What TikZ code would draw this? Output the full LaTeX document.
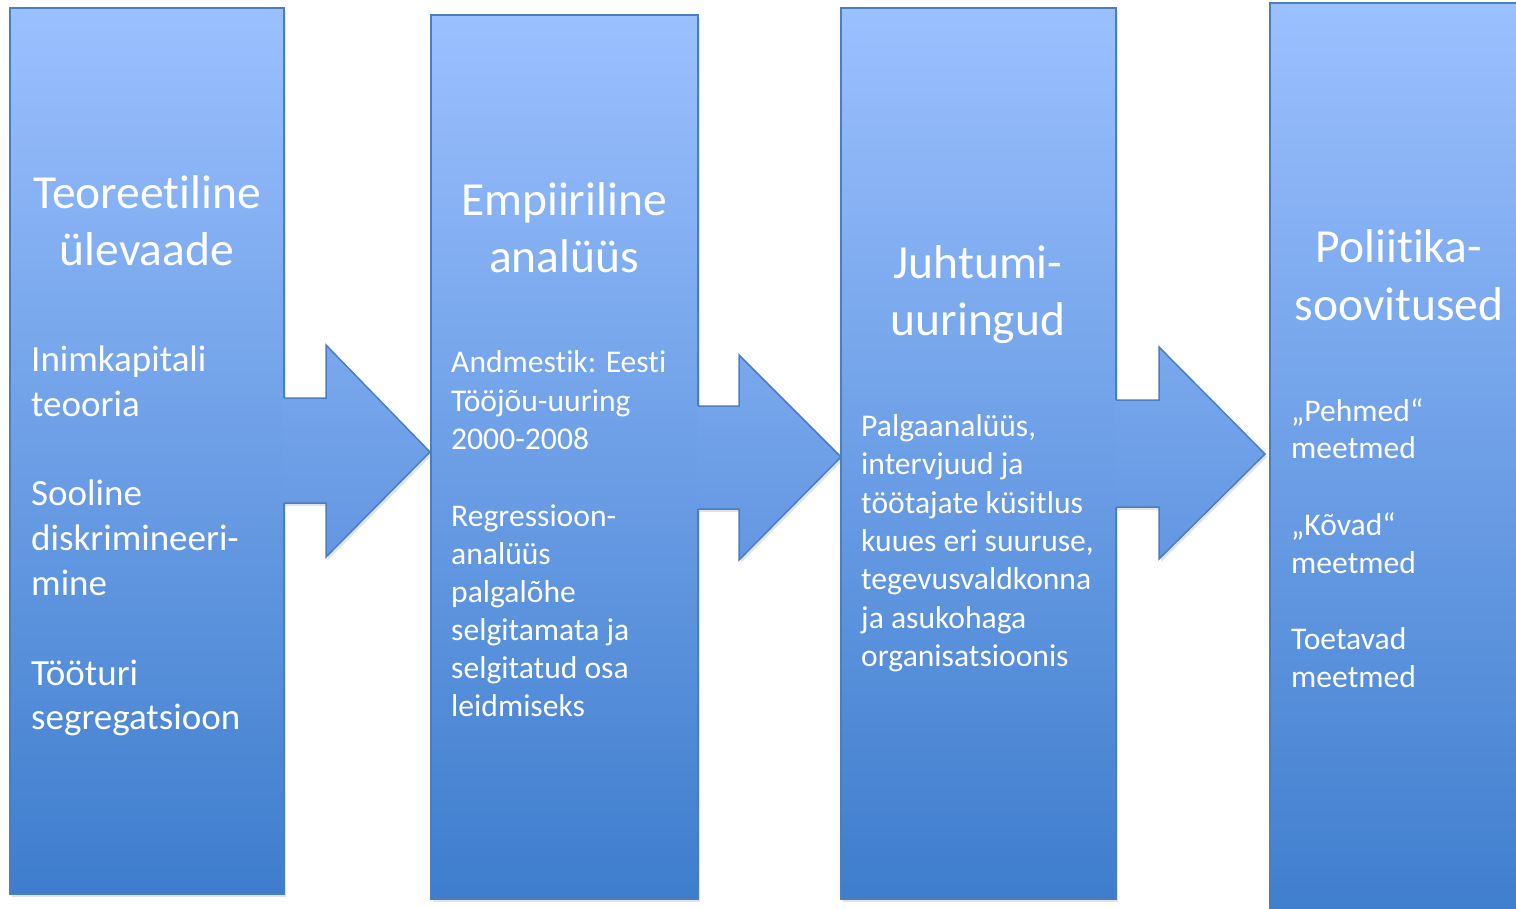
\documentclass[tikz,border=0pt]{standalone}
\usepackage{fontspec}
\setmainfont{Carlito}[Ligatures={NoCommon}]
\usetikzlibrary{shadows}
\definecolor{topc}{RGB}{155,192,255}
\definecolor{botc}{RGB}{62,125,205}
\definecolor{atop}{RGB}{122,168,237}
\definecolor{abot}{RGB}{98,151,225}
\definecolor{edgec}{RGB}{74,126,190}
\begin{document}
\begin{tikzpicture}[x=1pt,y=-1pt,
  col/.style={top color=topc,bottom color=botc,draw=edgec,line width=1.5pt,
    drop shadow={opacity=0.22,shadow xshift=2pt,shadow yshift=-3pt}},
  arrfill/.style={top color=atop,bottom color=abot,
    drop shadow={opacity=0.22,shadow xshift=2pt,shadow yshift=-3pt}},
  arredge/.style={draw=edgec,line width=1.5pt,line join=miter},
  ttl/.style={text=white,font=\fontsize{47.5}{57}\selectfont,anchor=base,inner sep=0pt},
  big/.style={text=white,font=\fontsize{37}{45}\selectfont,anchor=base west,inner sep=0pt},
  txt/.style={text=white,font=\fontsize{31.6}{38}\selectfont,anchor=base west,inner sep=0pt}]
\clip (0,0) rectangle (1516,909);
% columns
\path[col] (10,8) rectangle (284,894);
\path[col] (431,15) rectangle (698,899);
\path[col] (841,8) rectangle (1116,899);
\path[col] (1270,3) rectangle (1530,930);
% arrow 1
\path[arrfill] (283,398) -- (326,398) -- (326,345) -- (430,452) -- (326,557) -- (326,503) -- (283,503) -- cycle;
\draw[arredge] (284,398) -- (326,398) -- (326,345) -- (430,452) -- (326,557) -- (326,503) -- (284,503);
% arrow 2
\path[arrfill] (697,406) -- (739,406) -- (739,355) -- (841,457) -- (739,560) -- (739,509) -- (697,509) -- cycle;
\draw[arredge] (698,406) -- (739,406) -- (739,355) -- (841,457) -- (739,560) -- (739,509) -- (698,509);
% arrow 3
\path[arrfill] (1115,400) -- (1159,400) -- (1159,347) -- (1265,454) -- (1159,559) -- (1159,507) -- (1115,507) -- cycle;
\draw[arredge] (1116,400) -- (1159,400) -- (1159,347) -- (1265,454) -- (1159,559) -- (1159,507) -- (1116,507);
% column 1
\node[ttl] (t1a) at (147,209) {Teoreetiline};
\node[ttl] (t1b) at (147,266) {ülevaade};
\node[big] (b1a) at (31,371) {Inimkapitali};
\node[big] (b1b) at (31,416) {teooria};
\node[big] (b1c) at (31,505) {Sooline};
\node[big] (b1d) at (31,550) {diskrimineeri-};
\node[big] (b1e) at (31,595) {mine};
\node[big] (b1f) at (31,685) {Tööturi};
\node[big] (b1g) at (31,729) {segregatsioon};
% column 2
\node[ttl] (t2a) at (564,216) {Empiiriline};
\node[ttl] (t2b) at (564,273) {analüüs};
\node[txt] (b2a) at (451,373) {Andmestik: Eesti};
\node[txt] (b2b) at (451,411) {Tööjõu-uuring};
\node[txt] (b2c) at (451,449) {2000-2008};
\node[txt] (b2d) at (451,526) {Regressioon-};
\node[txt] (b2e) at (451,564) {analüüs};
\node[txt] (b2f) at (451,602) {palgalõhe};
\node[txt] (b2g) at (451,640) {selgitamata ja};
\node[txt] (b2h) at (451,678) {selgitatud osa};
\node[txt] (b2i) at (451,716) {leidmiseks};
% column 3
\node[ttl] (t3a) at (978,279) {Juhtumi-};
\node[ttl] (t3b) at (978,336) {uuringud};
\node[txt] (b3a) at (861,436) {Palgaanalüüs,};
\node[txt] (b3b) at (861,474) {intervjuud ja};
\node[txt] (b3c) at (861,513) {töötajate küsitlus};
\node[txt] (b3d) at (861,551) {kuues eri suuruse,};
\node[txt] (b3e) at (861,589) {tegevusvaldkonna};
\node[txt] (b3f) at (861,628) {ja asukohaga};
\node[txt] (b3g) at (861,666) {organisatsioonis};
% column 4
\node[ttl] (t4a) at (1399,263) {Poliitika-};
\node[ttl] (t4b) at (1399,321) {soovitused};
\node[txt] (b4a) at (1291,421) {„Pehmed“};
\node[txt] (b4b) at (1291,458) {meetmed};
\node[txt] (b4c) at (1291,535) {„Kõvad“};
\node[txt] (b4d) at (1291,573) {meetmed};
\node[txt] (b4e) at (1291,649) {Toetavad};
\node[txt] (b4f) at (1291,687) {meetmed};
\end{tikzpicture}
\end{document}
